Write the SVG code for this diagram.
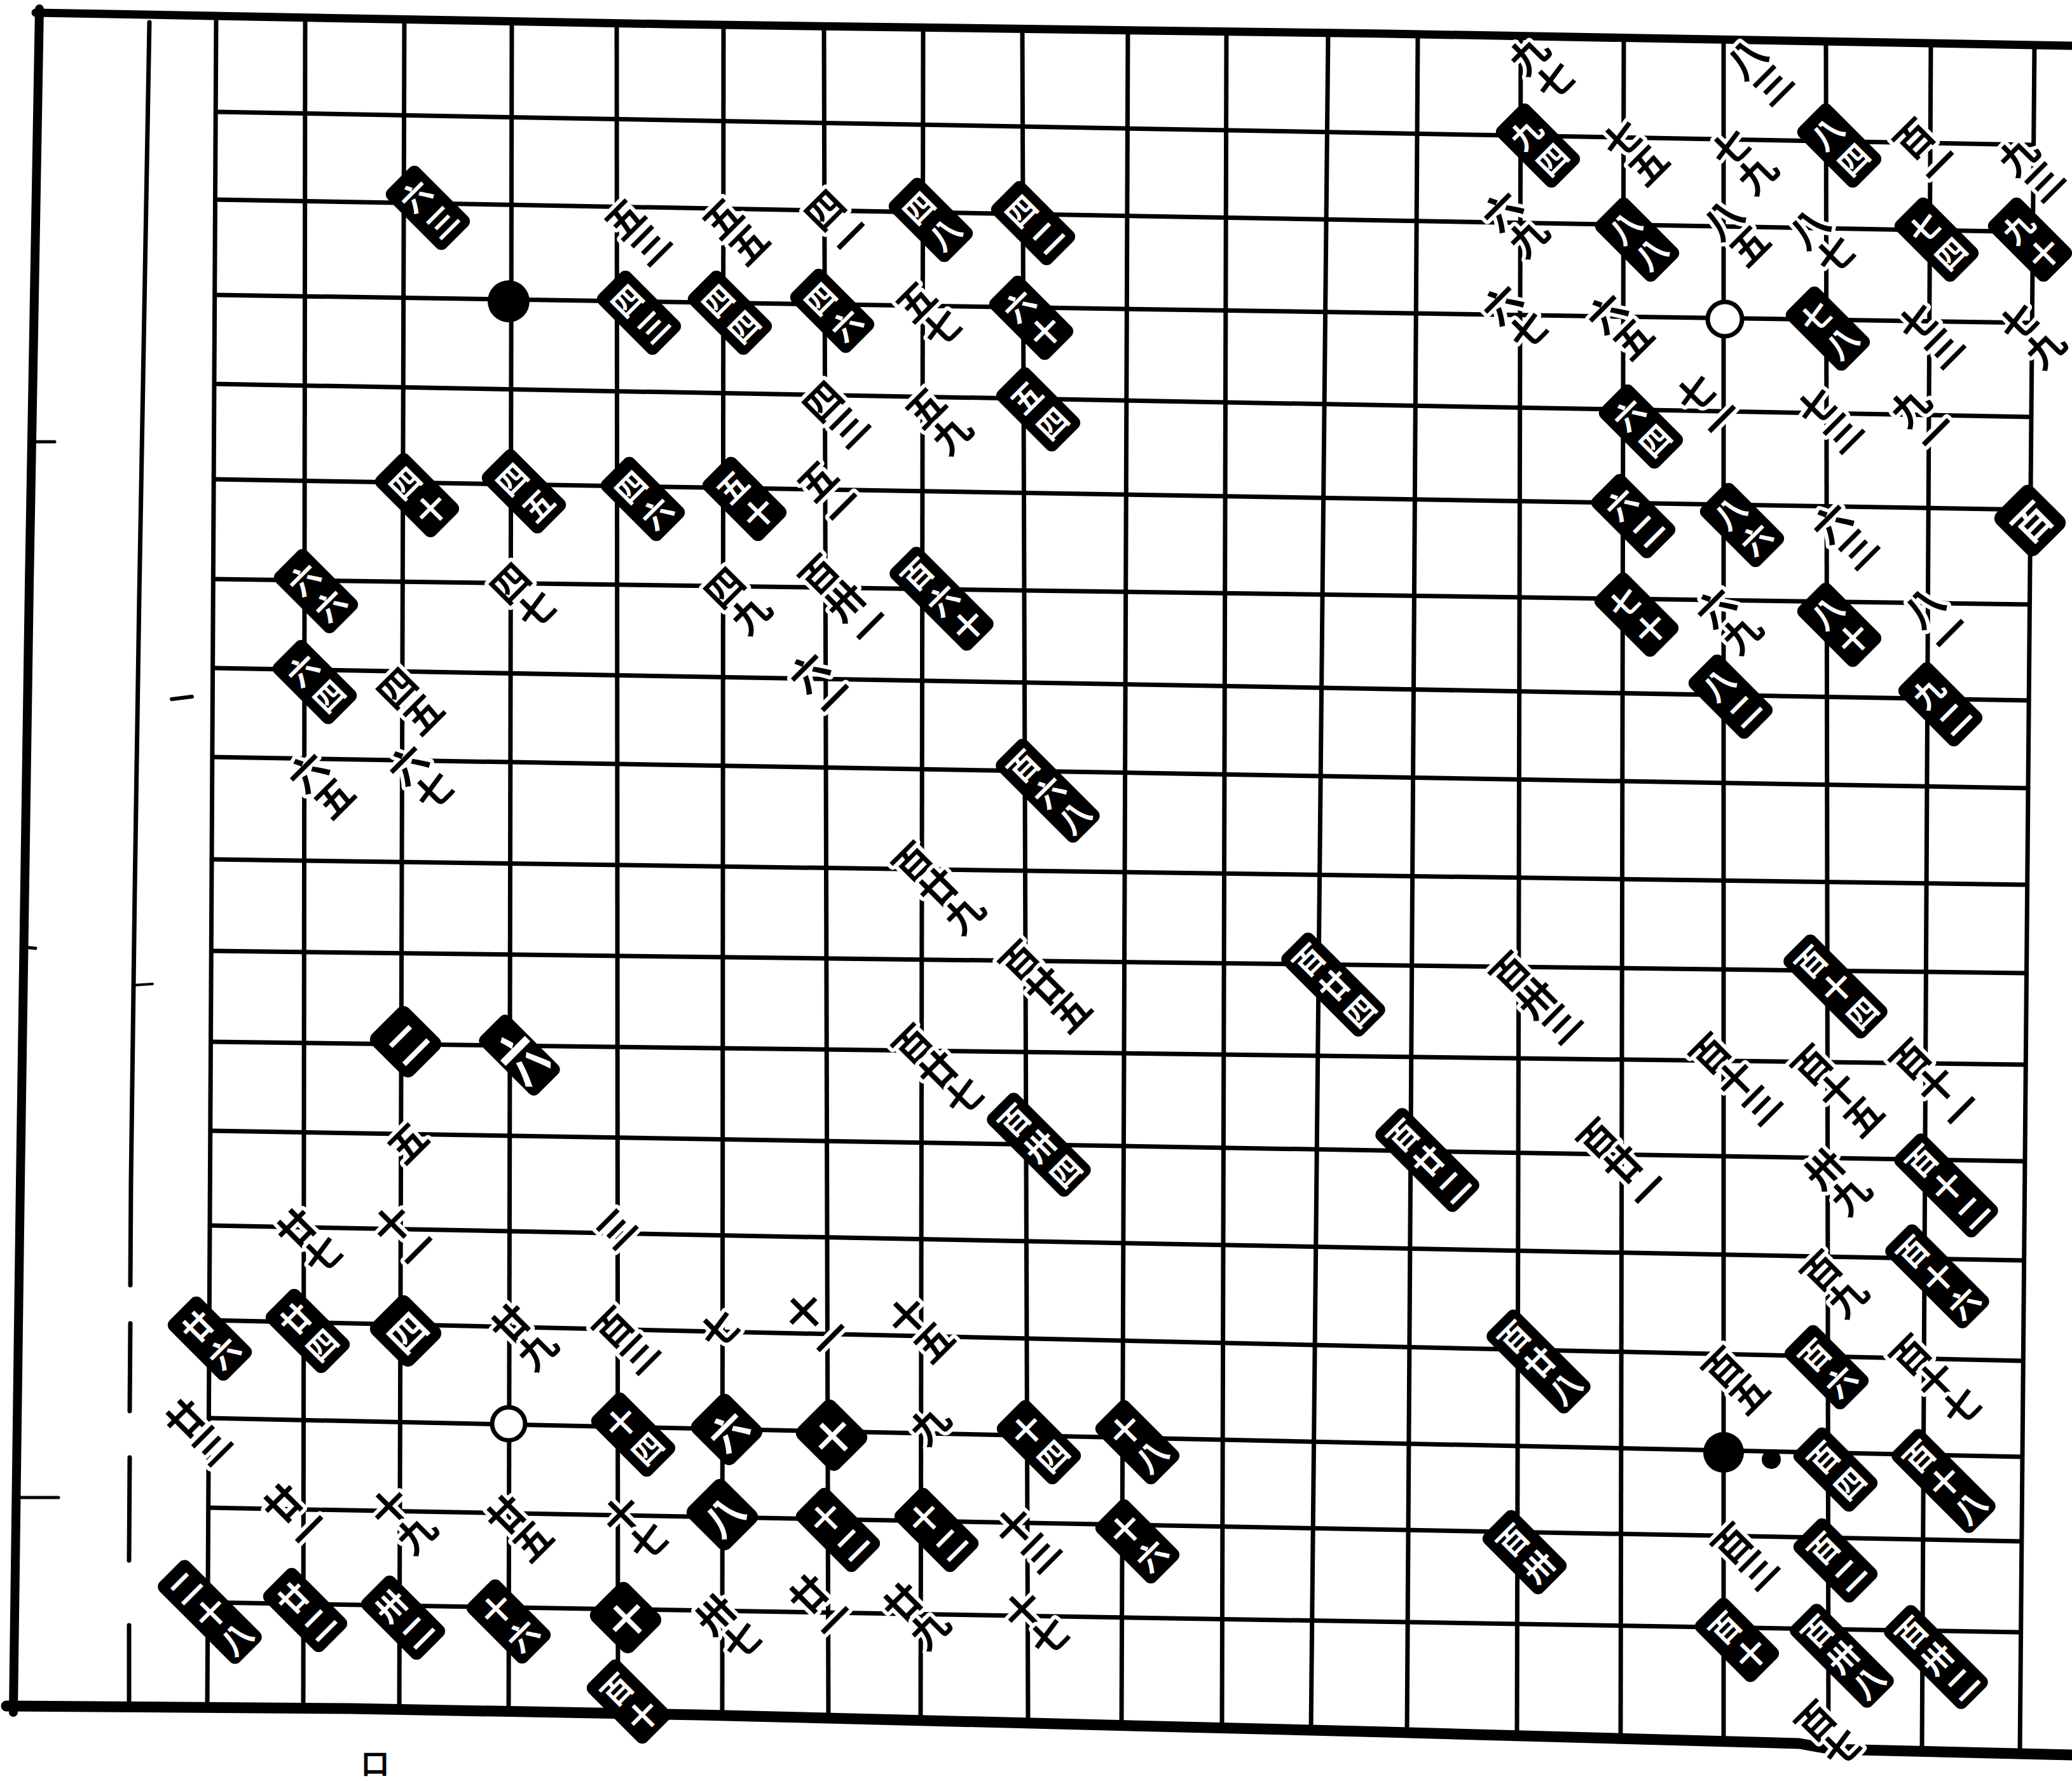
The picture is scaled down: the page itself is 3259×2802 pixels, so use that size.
<svg xmlns="http://www.w3.org/2000/svg" xmlns:xlink="http://www.w3.org/1999/xlink" width="3259" height="2802" viewBox="0 0 3259 2802">
<style>
.ln{fill:none;stroke:#000;stroke-width:7}
.bd{fill:none;stroke:#000;stroke-linejoin:round;stroke-linecap:round}
text{font-family:"Noto Sans CJK TC","Noto Sans CJK SC",sans-serif;font-weight:700;text-anchor:middle;dominant-baseline:central}
.w text{font-size:60px;fill:#000;stroke:#fff;stroke-width:12px;paint-order:stroke;stroke-linejoin:round}
.b text{font-size:48px;fill:#fff}
.b1 text{font-size:60px;fill:#fff}
</style>
<defs>
<rect id="r1" x="-41" y="-46" width="82" height="92" rx="13" fill="#000"/>
<rect id="r1l" x="-32" y="-64" width="64" height="128" rx="10" fill="#000"/>
<rect id="r2" x="-35" y="-65" width="70" height="130" rx="11" fill="#000"/>
<rect id="r3" x="-33" y="-89" width="66" height="178" rx="11" fill="#000"/>
</defs>
<rect width="3259" height="2802" fill="#fff"/>
<g id="frame">
<polyline class="bd" stroke-width="14" points="62,14 46,920 32,1860 21,2694"/>
<polyline class="bd" stroke-width="13" points="56,20 1052,38 2180,53 3259,72"/>
<polyline class="bd" stroke-width="17" points="10,2684 550,2688 1100,2698 2180,2725 2830,2743 2880,2752 3259,2761"/>
<polyline class="bd" stroke-width="7" points="235,35 219,940 212,1400 206,1860 205,2022"/>
<line class="bd" stroke-width="7" x1="205" y1="2082" x2="204" y2="2220"/>
<line class="bd" stroke-width="7" x1="204" y1="2293" x2="203" y2="2455"/>
<line class="bd" stroke-width="7" x1="203" y1="2557" x2="203" y2="2684"/>
<line class="bd" stroke-width="5" x1="55" y1="695" x2="86" y2="695"/>
<line class="bd" stroke-width="5" x1="38" y1="1490" x2="56" y2="1492"/>
<line class="bd" stroke-width="5" x1="30" y1="2356" x2="92" y2="2356"/>
<line class="bd" stroke-width="6" x1="270" y1="1100" x2="302" y2="1096"/>
<line class="bd" stroke-width="4" x1="210" y1="1550" x2="240" y2="1548"/>
</g>
<g id="grid">
<line class="ln" x1="339" y1="176" x2="3199" y2="228"/>
<line class="ln" x1="338" y1="314" x2="3197" y2="365"/>
<line class="ln" x1="338" y1="464" x2="3196" y2="508"/>
<line class="ln" x1="337" y1="604" x2="3195" y2="656"/>
<line class="ln" x1="336" y1="754" x2="3194" y2="802"/>
<line class="ln" x1="335" y1="911" x2="3192" y2="951"/>
<line class="ln" x1="335" y1="1051" x2="3191" y2="1102"/>
<line class="ln" x1="334" y1="1191" x2="3190" y2="1240"/>
<line class="ln" x1="333" y1="1352" x2="3189" y2="1392"/>
<line class="ln" x1="332" y1="1496" x2="3187" y2="1531"/>
<line class="ln" x1="331" y1="1639" x2="3186" y2="1675"/>
<line class="ln" x1="331" y1="1779" x2="3185" y2="1827"/>
<line class="ln" x1="330" y1="1928" x2="3183" y2="1983"/>
<line class="ln" x1="329" y1="2077" x2="3182" y2="2141"/>
<line class="ln" x1="328" y1="2231" x2="3181" y2="2292"/>
<line class="ln" x1="328" y1="2372" x2="3180" y2="2425"/>
<line class="ln" x1="327" y1="2521" x2="3178" y2="2568"/>
<line class="ln" x1="340" y1="27" x2="326" y2="2688"/>
<line class="ln" x1="480" y1="29" x2="477" y2="2690"/>
<line class="ln" x1="636" y1="31" x2="628" y2="2692"/>
<line class="ln" x1="805" y1="34" x2="800" y2="2694"/>
<line class="ln" x1="970" y1="36" x2="972" y2="2696"/>
<line class="ln" x1="1138" y1="39" x2="1136" y2="2699"/>
<line class="ln" x1="1296" y1="41" x2="1303" y2="2703"/>
<line class="ln" x1="1452" y1="43" x2="1448" y2="2707"/>
<line class="ln" x1="1608" y1="46" x2="1617" y2="2711"/>
<line class="ln" x1="1774" y1="48" x2="1764" y2="2715"/>
<line class="ln" x1="1929" y1="50" x2="1922" y2="2719"/>
<line class="ln" x1="2089" y1="53" x2="2062" y2="2722"/>
<line class="ln" x1="2230" y1="55" x2="2213" y2="2726"/>
<line class="ln" x1="2392" y1="57" x2="2386" y2="2731"/>
<line class="ln" x1="2554" y1="60" x2="2549" y2="2735"/>
<line class="ln" x1="2711" y1="62" x2="2711" y2="2740"/>
<line class="ln" x1="2872" y1="65" x2="2876" y2="2753"/>
<line class="ln" x1="3037" y1="67" x2="3023" y2="2755"/>
<line class="ln" x1="3200" y1="69" x2="3177" y2="2758"/>
</g>
<g id="white-stones">
<g id="w1" class="w" transform="translate(1000,362) rotate(-45)"><text><tspan x="0" y="-29">五</tspan><tspan x="0" y="29">三</tspan></text></g>
<g id="w2" class="w" transform="translate(1154,361) rotate(-45)"><text><tspan x="0" y="-29">五</tspan><tspan x="0" y="29">五</tspan></text></g>
<g id="w3" class="w" transform="translate(1315,348) rotate(-45)"><text><tspan x="0" y="-29">四</tspan><tspan x="0" y="29">一</tspan></text></g>
<g id="w4" class="w" transform="translate(1458,492) rotate(-45)"><text><tspan x="0" y="-29">五</tspan><tspan x="0" y="29">七</tspan></text></g>
<g id="w5" class="w" transform="translate(1312,649) rotate(-45)"><text><tspan x="0" y="-29">四</tspan><tspan x="0" y="29">三</tspan></text></g>
<g id="w6" class="w" transform="translate(1473,659) rotate(-45)"><text><tspan x="0" y="-29">五</tspan><tspan x="0" y="29">九</tspan></text></g>
<g id="w7" class="w" transform="translate(1303,774) rotate(-45)"><text><tspan x="0" y="-29">五</tspan><tspan x="0" y="29">一</tspan></text></g>
<g id="w8" class="w" transform="translate(820,935) rotate(-45)"><text><tspan x="0" y="-29">四</tspan><tspan x="0" y="29">七</tspan></text></g>
<g id="w9" class="w" transform="translate(1157,942) rotate(-45)"><text><tspan x="0" y="-29">四</tspan><tspan x="0" y="29">九</tspan></text></g>
<g id="w10" class="w" transform="translate(1326,942) rotate(-45)"><text><tspan x="0" y="-57">百</tspan><tspan x="0" y="0">卅</tspan><tspan x="0" y="57">一</tspan></text></g>
<g id="w11" class="w" transform="translate(642,1100) rotate(-45)"><text><tspan x="0" y="-29">四</tspan><tspan x="0" y="29">五</tspan></text></g>
<g id="w12" class="w" transform="translate(502,1232) rotate(-45)"><text><tspan x="0" y="-29">六</tspan><tspan x="0" y="29">五</tspan></text></g>
<g id="w13" class="w" transform="translate(659,1220) rotate(-45)"><text><tspan x="0" y="-29">六</tspan><tspan x="0" y="29">七</tspan></text></g>
<g id="w14" class="w" transform="translate(638,1795) rotate(-45)"><text><tspan x="0" y="0">五</tspan></text></g>
<g id="w15" class="w" transform="translate(1290,1075) rotate(-45)"><text><tspan x="0" y="-29">六</tspan><tspan x="0" y="29">一</tspan></text></g>
<g id="w16" class="w" transform="translate(1473,1394) rotate(-45)"><text><tspan x="0" y="-57">百</tspan><tspan x="0" y="0">廿</tspan><tspan x="0" y="57">九</tspan></text></g>
<g id="w17" class="w" transform="translate(1641,1549) rotate(-45)"><text><tspan x="0" y="-57">百</tspan><tspan x="0" y="0">廿</tspan><tspan x="0" y="57">五</tspan></text></g>
<g id="w18" class="w" transform="translate(1473,1681) rotate(-45)"><text><tspan x="0" y="-57">百</tspan><tspan x="0" y="0">廿</tspan><tspan x="0" y="57">七</tspan></text></g>
<g id="w19" class="w" transform="translate(2413,1567) rotate(-45)"><text><tspan x="0" y="-57">百</tspan><tspan x="0" y="0">卅</tspan><tspan x="0" y="57">三</tspan></text></g>
<g id="w20" class="w" transform="translate(484,1950) rotate(-45)"><text><tspan x="0" y="-29">廿</tspan><tspan x="0" y="29">七</tspan></text></g>
<g id="w21" class="w" transform="translate(635,1944) rotate(-45)"><text><tspan x="0" y="-29">十</tspan><tspan x="0" y="29">一</tspan></text></g>
<g id="w22" class="w" transform="translate(966,1930) rotate(-45)"><text><tspan x="0" y="0">三</tspan></text></g>
<g id="w23" class="w" transform="translate(821,2100) rotate(-45)"><text><tspan x="0" y="-29">廿</tspan><tspan x="0" y="29">九</tspan></text></g>
<g id="w24" class="w" transform="translate(982,2106) rotate(-45)"><text><tspan x="0" y="-29">百</tspan><tspan x="0" y="29">三</tspan></text></g>
<g id="w25" class="w" transform="translate(309,2250) rotate(-45)"><text><tspan x="0" y="-29">廿</tspan><tspan x="0" y="29">三</tspan></text></g>
<g id="w26" class="w" transform="translate(463,2383) rotate(-45)"><text><tspan x="0" y="-29">廿</tspan><tspan x="0" y="29">一</tspan></text></g>
<g id="w27" class="w" transform="translate(631,2389) rotate(-45)"><text><tspan x="0" y="-29">十</tspan><tspan x="0" y="29">九</tspan></text></g>
<g id="w28" class="w" transform="translate(814,2401) rotate(-45)"><text><tspan x="0" y="-29">廿</tspan><tspan x="0" y="29">五</tspan></text></g>
<g id="w29" class="w" transform="translate(996,2401) rotate(-45)"><text><tspan x="0" y="-29">十</tspan><tspan x="0" y="29">七</tspan></text></g>
<g id="w30" class="w" transform="translate(1129,2088) rotate(-45)"><text><tspan x="0" y="0">七</tspan></text></g>
<g id="w31" class="w" transform="translate(1283,2082) rotate(-45)"><text><tspan x="0" y="-29">十</tspan><tspan x="0" y="29">一</tspan></text></g>
<g id="w32" class="w" transform="translate(1445,2088) rotate(-45)"><text><tspan x="0" y="-29">十</tspan><tspan x="0" y="29">五</tspan></text></g>
<g id="w33" class="w" transform="translate(1459,2238) rotate(-45)"><text><tspan x="0" y="0">九</tspan></text></g>
<g id="w34" class="w" transform="translate(1613,2419) rotate(-45)"><text><tspan x="0" y="-29">十</tspan><tspan x="0" y="29">三</tspan></text></g>
<g id="w35" class="w" transform="translate(1143,2557) rotate(-45)"><text><tspan x="0" y="-29">卅</tspan><tspan x="0" y="29">七</tspan></text></g>
<g id="w36" class="w" transform="translate(1290,2526) rotate(-45)"><text><tspan x="0" y="-29">廿</tspan><tspan x="0" y="29">一</tspan></text></g>
<g id="w37" class="w" transform="translate(1438,2539) rotate(-45)"><text><tspan x="0" y="-29">廿</tspan><tspan x="0" y="29">九</tspan></text></g>
<g id="w38" class="w" transform="translate(1627,2551) rotate(-45)"><text><tspan x="0" y="-29">十</tspan><tspan x="0" y="29">七</tspan></text></g>
<g id="w39" class="w" transform="translate(2422,103) rotate(-45)"><text><tspan x="0" y="-29">九</tspan><tspan x="0" y="29">七</tspan></text></g>
<g id="w40" class="w" transform="translate(2569,236) rotate(-45)"><text><tspan x="0" y="-29">七</tspan><tspan x="0" y="29">五</tspan></text></g>
<g id="w41" class="w" transform="translate(2765,110) rotate(-45)"><text><tspan x="0" y="-29">八</tspan><tspan x="0" y="29">三</tspan></text></g>
<g id="w42" class="w" transform="translate(2740,250) rotate(-45)"><text><tspan x="0" y="-29">七</tspan><tspan x="0" y="29">九</tspan></text></g>
<g id="w43" class="w" transform="translate(3028,236) rotate(-45)"><text><tspan x="0" y="-29">百</tspan><tspan x="0" y="29">一</tspan></text></g>
<g id="w44" class="w" transform="translate(3192,262) rotate(-45)"><text><tspan x="0" y="-29">九</tspan><tspan x="0" y="29">三</tspan></text></g>
<g id="w45" class="w" transform="translate(2380,349) rotate(-45)"><text><tspan x="0" y="-29">六</tspan><tspan x="0" y="29">九</tspan></text></g>
<g id="w46" class="w" transform="translate(2728,363) rotate(-45)"><text><tspan x="0" y="-29">八</tspan><tspan x="0" y="29">五</tspan></text></g>
<g id="w47" class="w" transform="translate(2863,377) rotate(-45)"><text><tspan x="0" y="-29">八</tspan><tspan x="0" y="29">七</tspan></text></g>
<g id="w48" class="w" transform="translate(2380,496) rotate(-45)"><text><tspan x="0" y="-29">六</tspan><tspan x="0" y="29">七</tspan></text></g>
<g id="w49" class="w" transform="translate(2545,510) rotate(-45)"><text><tspan x="0" y="-29">六</tspan><tspan x="0" y="29">五</tspan></text></g>
<g id="w50" class="w" transform="translate(3034,524) rotate(-45)"><text><tspan x="0" y="-29">七</tspan><tspan x="0" y="29">三</tspan></text></g>
<g id="w51" class="w" transform="translate(3193,524) rotate(-45)"><text><tspan x="0" y="-29">七</tspan><tspan x="0" y="29">九</tspan></text></g>
<g id="w52" class="w" transform="translate(2685,636) rotate(-45)"><text><tspan x="0" y="-29">七</tspan><tspan x="0" y="29">一</tspan></text></g>
<g id="w53" class="w" transform="translate(2875,657) rotate(-45)"><text><tspan x="0" y="-29">七</tspan><tspan x="0" y="29">三</tspan></text></g>
<g id="w54" class="w" transform="translate(3022,657) rotate(-45)"><text><tspan x="0" y="-29">九</tspan><tspan x="0" y="29">一</tspan></text></g>
<g id="w55" class="w" transform="translate(2899,840) rotate(-45)"><text><tspan x="0" y="-29">六</tspan><tspan x="0" y="29">三</tspan></text></g>
<g id="w56" class="w" transform="translate(2716,973) rotate(-45)"><text><tspan x="0" y="-29">六</tspan><tspan x="0" y="29">九</tspan></text></g>
<g id="w57" class="w" transform="translate(3044,973) rotate(-45)"><text><tspan x="0" y="-29">八</tspan><tspan x="0" y="29">一</tspan></text></g>
<g id="w58" class="w" transform="translate(2727,1695) rotate(-45)"><text><tspan x="0" y="-57">百</tspan><tspan x="0" y="0">十</tspan><tspan x="0" y="57">三</tspan></text></g>
<g id="w59" class="w" transform="translate(2887,1713) rotate(-45)"><text><tspan x="0" y="-57">百</tspan><tspan x="0" y="0">十</tspan><tspan x="0" y="57">五</tspan></text></g>
<g id="w60" class="w" transform="translate(3042,1704) rotate(-45)"><text><tspan x="0" y="-57">百</tspan><tspan x="0" y="0">十</tspan><tspan x="0" y="57">一</tspan></text></g>
<g id="w61" class="w" transform="translate(2550,1829) rotate(-45)"><text><tspan x="0" y="-57">百</tspan><tspan x="0" y="0">廿</tspan><tspan x="0" y="57">一</tspan></text></g>
<g id="w62" class="w" transform="translate(2887,1856) rotate(-45)"><text><tspan x="0" y="-29">卅</tspan><tspan x="0" y="29">九</tspan></text></g>
<g id="w63" class="w" transform="translate(2882,2017) rotate(-45)"><text><tspan x="0" y="-29">百</tspan><tspan x="0" y="29">九</tspan></text></g>
<g id="w64" class="w" transform="translate(2727,2169) rotate(-45)"><text><tspan x="0" y="-29">百</tspan><tspan x="0" y="29">五</tspan></text></g>
<g id="w65" class="w" transform="translate(3042,2169) rotate(-45)"><text><tspan x="0" y="-57">百</tspan><tspan x="0" y="0">十</tspan><tspan x="0" y="57">七</tspan></text></g>
<g id="w66" class="w" transform="translate(2742,2446) rotate(-45)"><text><tspan x="0" y="-29">百</tspan><tspan x="0" y="29">三</tspan></text></g>
<g id="w67" class="w" transform="translate(2873,2725) rotate(-45)"><text><tspan x="0" y="-29">百</tspan><tspan x="0" y="29">七</tspan></text></g>
</g>
<g id="corner-stones">
<circle cx="800" cy="474" r="33" fill="#000"/>
<circle cx="2711" cy="2285" r="32" fill="#000"/>
<circle cx="2786" cy="2296" r="15" fill="#000"/>
<circle cx="2713" cy="502" r="27" fill="#fff" stroke="#000" stroke-width="7"/>
<circle cx="800" cy="2240" r="26" fill="#fff" stroke="#000" stroke-width="7"/>
</g>
<g id="black-stones">
<g id="b1" class="b" transform="translate(673,327) rotate(-45)"><use href="#r2"/><text><tspan x="0" y="-29">六</tspan><tspan x="0" y="29">三</tspan></text></g>
<g id="b2" class="b" transform="translate(1464,346) rotate(-45)"><use href="#r2"/><text><tspan x="0" y="-29">四</tspan><tspan x="0" y="29">八</tspan></text></g>
<g id="b3" class="b" transform="translate(1625,351) rotate(-45)"><use href="#r2"/><text><tspan x="0" y="-29">四</tspan><tspan x="0" y="29">二</tspan></text></g>
<g id="b4" class="b" transform="translate(1005,492) rotate(-45)"><use href="#r2"/><text><tspan x="0" y="-29">四</tspan><tspan x="0" y="29">三</tspan></text></g>
<g id="b5" class="b" transform="translate(1148,492) rotate(-45)"><use href="#r2"/><text><tspan x="0" y="-29">四</tspan><tspan x="0" y="29">四</tspan></text></g>
<g id="b6" class="b" transform="translate(1309,489) rotate(-45)"><use href="#r2"/><text><tspan x="0" y="-29">四</tspan><tspan x="0" y="29">六</tspan></text></g>
<g id="b7" class="b" transform="translate(1622,500) rotate(-45)"><use href="#r2"/><text><tspan x="0" y="-29">六</tspan><tspan x="0" y="29">十</tspan></text></g>
<g id="b8" class="b" transform="translate(1633,644) rotate(-45)"><use href="#r2"/><text><tspan x="0" y="-29">五</tspan><tspan x="0" y="29">四</tspan></text></g>
<g id="b9" class="b" transform="translate(656,779) rotate(-45)"><use href="#r2"/><text><tspan x="0" y="-29">四</tspan><tspan x="0" y="29">十</tspan></text></g>
<g id="b10" class="b" transform="translate(824,773) rotate(-45)"><use href="#r2"/><text><tspan x="0" y="-29">四</tspan><tspan x="0" y="29">五</tspan></text></g>
<g id="b11" class="b" transform="translate(1011,785) rotate(-45)"><use href="#r2"/><text><tspan x="0" y="-29">四</tspan><tspan x="0" y="29">六</tspan></text></g>
<g id="b12" class="b" transform="translate(1171,785) rotate(-45)"><use href="#r2"/><text><tspan x="0" y="-29">五</tspan><tspan x="0" y="29">十</tspan></text></g>
<g id="b13" class="b" transform="translate(497,930) rotate(-45)"><use href="#r2"/><text><tspan x="0" y="-29">六</tspan><tspan x="0" y="29">六</tspan></text></g>
<g id="b14" class="b" transform="translate(495,1073) rotate(-45)"><use href="#r2"/><text><tspan x="0" y="-29">六</tspan><tspan x="0" y="29">四</tspan></text></g>
<g id="b15" class="b1" transform="translate(638,1639) rotate(-45)"><use href="#r1"/><text><tspan x="0" y="0">二</tspan></text></g>
<g id="b16" class="b1" transform="translate(817,1660) rotate(-45)"><use href="#r1l"/><text transform="scale(1,1.6)"><tspan x="0" y="0">六</tspan></text></g>
<g id="b17" class="b" transform="translate(1481,942) rotate(-45)"><use href="#r3"/><text><tspan x="0" y="-57">百</tspan><tspan x="0" y="0">六</tspan><tspan x="0" y="57">十</tspan></text></g>
<g id="b18" class="b" transform="translate(1648,1244) rotate(-45)"><use href="#r3"/><text><tspan x="0" y="-57">百</tspan><tspan x="0" y="0">六</tspan><tspan x="0" y="57">八</tspan></text></g>
<g id="b19" class="b" transform="translate(2097,1549) rotate(-45)"><use href="#r3"/><text><tspan x="0" y="-57">百</tspan><tspan x="0" y="0">廿</tspan><tspan x="0" y="57">四</tspan></text></g>
<g id="b20" class="b" transform="translate(1634,1801) rotate(-45)"><use href="#r3"/><text><tspan x="0" y="-57">百</tspan><tspan x="0" y="0">卅</tspan><tspan x="0" y="57">四</tspan></text></g>
<g id="b21" class="b" transform="translate(330,2106) rotate(-45)"><use href="#r2"/><text><tspan x="0" y="-29">廿</tspan><tspan x="0" y="29">六</tspan></text></g>
<g id="b22" class="b" transform="translate(484,2094) rotate(-45)"><use href="#r2"/><text><tspan x="0" y="-29">廿</tspan><tspan x="0" y="29">四</tspan></text></g>
<g id="b23" class="b1" transform="translate(638,2094) rotate(-45)"><use href="#r1"/><text><tspan x="0" y="0">四</tspan></text></g>
<g id="b24" class="b" transform="translate(996,2257) rotate(-45)"><use href="#r2"/><text><tspan x="0" y="-29">十</tspan><tspan x="0" y="29">四</tspan></text></g>
<g id="b25" class="b" transform="translate(330,2536) rotate(-45)"><use href="#r3"/><text><tspan x="0" y="-57">二</tspan><tspan x="0" y="0">十</tspan><tspan x="0" y="57">八</tspan></text></g>
<g id="b26" class="b" transform="translate(480,2533) rotate(-45)"><use href="#r2"/><text><tspan x="0" y="-29">廿</tspan><tspan x="0" y="29">二</tspan></text></g>
<g id="b27" class="b" transform="translate(634,2545) rotate(-45)"><use href="#r2"/><text><tspan x="0" y="-29">卅</tspan><tspan x="0" y="29">二</tspan></text></g>
<g id="b28" class="b" transform="translate(800,2551) rotate(-45)"><use href="#r2"/><text><tspan x="0" y="-29">十</tspan><tspan x="0" y="29">六</tspan></text></g>
<g id="b29" class="b1" transform="translate(984,2545) rotate(-45)"><use href="#r1"/><text><tspan x="0" y="0">十</tspan></text></g>
<g id="b30" class="b" transform="translate(989,2677) rotate(-45)"><use href="#r2"/><text><tspan x="0" y="-29">百</tspan><tspan x="0" y="29">十</tspan></text></g>
<g id="b31" class="b1" transform="translate(1143,2249) rotate(-45)"><use href="#r1"/><text><tspan x="0" y="0">六</tspan></text></g>
<g id="b32" class="b1" transform="translate(1308,2258) rotate(-45)"><use href="#r1"/><text><tspan x="0" y="0">十</tspan></text></g>
<g id="b33" class="b" transform="translate(1634,2269) rotate(-45)"><use href="#r2"/><text><tspan x="0" y="-29">十</tspan><tspan x="0" y="29">四</tspan></text></g>
<g id="b34" class="b" transform="translate(1789,2269) rotate(-45)"><use href="#r2"/><text><tspan x="0" y="-29">十</tspan><tspan x="0" y="29">八</tspan></text></g>
<g id="b35" class="b1" transform="translate(1136,2383) rotate(-45)"><use href="#r1"/><text><tspan x="0" y="0">八</tspan></text></g>
<g id="b36" class="b" transform="translate(1318,2407) rotate(-45)"><use href="#r2"/><text><tspan x="0" y="-29">十</tspan><tspan x="0" y="29">二</tspan></text></g>
<g id="b37" class="b" transform="translate(1473,2407) rotate(-45)"><use href="#r2"/><text><tspan x="0" y="-29">十</tspan><tspan x="0" y="29">二</tspan></text></g>
<g id="b38" class="b" transform="translate(1789,2425) rotate(-45)"><use href="#r2"/><text><tspan x="0" y="-29">十</tspan><tspan x="0" y="29">六</tspan></text></g>
<g id="b39" class="b" transform="translate(2419,229) rotate(-45)"><use href="#r2"/><text><tspan x="0" y="-29">九</tspan><tspan x="0" y="29">四</tspan></text></g>
<g id="b40" class="b" transform="translate(2893,229) rotate(-45)"><use href="#r2"/><text><tspan x="0" y="-29">八</tspan><tspan x="0" y="29">四</tspan></text></g>
<g id="b41" class="b" transform="translate(2575,377) rotate(-45)"><use href="#r2"/><text><tspan x="0" y="-29">八</tspan><tspan x="0" y="29">八</tspan></text></g>
<g id="b42" class="b" transform="translate(3046,377) rotate(-45)"><use href="#r2"/><text><tspan x="0" y="-29">七</tspan><tspan x="0" y="29">四</tspan></text></g>
<g id="b43" class="b" transform="translate(3193,377) rotate(-45)"><use href="#r2"/><text><tspan x="0" y="-29">九</tspan><tspan x="0" y="29">十</tspan></text></g>
<g id="b44" class="b" transform="translate(2875,517) rotate(-45)"><use href="#r2"/><text><tspan x="0" y="-29">七</tspan><tspan x="0" y="29">八</tspan></text></g>
<g id="b45" class="b" transform="translate(2581,671) rotate(-45)"><use href="#r2"/><text><tspan x="0" y="-29">六</tspan><tspan x="0" y="29">四</tspan></text></g>
<g id="b46" class="b" transform="translate(2569,812) rotate(-45)"><use href="#r2"/><text><tspan x="0" y="-29">六</tspan><tspan x="0" y="29">二</tspan></text></g>
<g id="b47" class="b" transform="translate(2740,826) rotate(-45)"><use href="#r2"/><text><tspan x="0" y="-29">八</tspan><tspan x="0" y="29">六</tspan></text></g>
<g id="b48" class="b1" transform="translate(3193,819) rotate(-45)"><use href="#r1"/><text><tspan x="0" y="0">百</tspan></text></g>
<g id="b49" class="b" transform="translate(2574,967) rotate(-45)"><use href="#r2"/><text><tspan x="0" y="-29">七</tspan><tspan x="0" y="29">十</tspan></text></g>
<g id="b50" class="b" transform="translate(2893,983) rotate(-45)"><use href="#r2"/><text><tspan x="0" y="-29">八</tspan><tspan x="0" y="29">十</tspan></text></g>
<g id="b51" class="b" transform="translate(2722,1096) rotate(-45)"><use href="#r2"/><text><tspan x="0" y="-29">八</tspan><tspan x="0" y="29">二</tspan></text></g>
<g id="b52" class="b" transform="translate(3052,1108) rotate(-45)"><use href="#r2"/><text><tspan x="0" y="-29">九</tspan><tspan x="0" y="29">二</tspan></text></g>
<g id="b53" class="b" transform="translate(2887,1552) rotate(-45)"><use href="#r3"/><text><tspan x="0" y="-57">百</tspan><tspan x="0" y="0">十</tspan><tspan x="0" y="57">四</tspan></text></g>
<g id="b54" class="b" transform="translate(3061,1865) rotate(-45)"><use href="#r3"/><text><tspan x="0" y="-57">百</tspan><tspan x="0" y="0">十</tspan><tspan x="0" y="57">二</tspan></text></g>
<g id="b55" class="b" transform="translate(3047,2008) rotate(-45)"><use href="#r3"/><text><tspan x="0" y="-57">百</tspan><tspan x="0" y="0">十</tspan><tspan x="0" y="57">六</tspan></text></g>
<g id="b56" class="b" transform="translate(2873,2151) rotate(-45)"><use href="#r2"/><text><tspan x="0" y="-29">百</tspan><tspan x="0" y="29">六</tspan></text></g>
<g id="b57" class="b" transform="translate(2887,2312) rotate(-45)"><use href="#r2"/><text><tspan x="0" y="-29">百</tspan><tspan x="0" y="29">四</tspan></text></g>
<g id="b58" class="b" transform="translate(3057,2330) rotate(-45)"><use href="#r3"/><text><tspan x="0" y="-57">百</tspan><tspan x="0" y="0">十</tspan><tspan x="0" y="57">八</tspan></text></g>
<g id="b59" class="b" transform="translate(2887,2455) rotate(-45)"><use href="#r2"/><text><tspan x="0" y="-29">百</tspan><tspan x="0" y="29">二</tspan></text></g>
<g id="b60" class="b" transform="translate(2732,2580) rotate(-45)"><use href="#r2"/><text><tspan x="0" y="-29">百</tspan><tspan x="0" y="29">十</tspan></text></g>
<g id="b61" class="b" transform="translate(2897,2605) rotate(-45)"><use href="#r3"/><text><tspan x="0" y="-57">百</tspan><tspan x="0" y="0">卅</tspan><tspan x="0" y="57">八</tspan></text></g>
<g id="b62" class="b" transform="translate(3045,2607) rotate(-45)"><use href="#r3"/><text><tspan x="0" y="-57">百</tspan><tspan x="0" y="0">卅</tspan><tspan x="0" y="57">二</tspan></text></g>
<g id="b63" class="b" transform="translate(2420,2142) rotate(-45)"><use href="#r3"/><text><tspan x="0" y="-57">百</tspan><tspan x="0" y="0">廿</tspan><tspan x="0" y="57">八</tspan></text></g>
<g id="b64" class="b" transform="translate(2398,2442) rotate(-45)"><use href="#r2"/><text><tspan x="0" y="-29">百</tspan><tspan x="0" y="29">卅</tspan></text></g>
<g id="b65" class="b" transform="translate(2245,1825) rotate(-45)"><use href="#r3"/><text><tspan x="0" y="-57">百</tspan><tspan x="0" y="0">廿</tspan><tspan x="0" y="57">二</tspan></text></g>
</g>
<text x="590" y="2772" font-size="44" fill="#000" font-weight="400">口</text>
</svg>
